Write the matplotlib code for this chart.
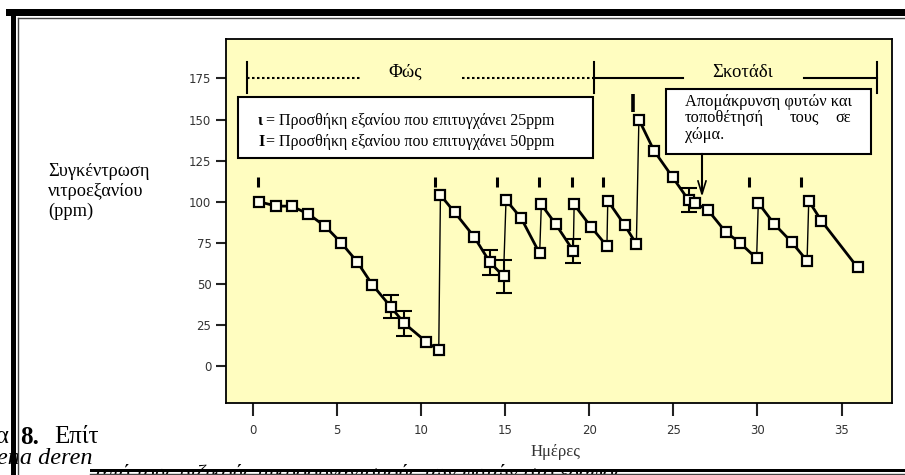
import numpy as np
import matplotlib.pyplot as plt
from matplotlib.patches import Rectangle

# data
days = [0.35, 1.4, 2.3, 3.3, 4.3, 5.25, 6.2, 7.1, 8.2, 9.0, 10.3, 11.05,
        11.15, 12.0, 13.15, 14.1, 14.9,
        15.05, 15.95, 17.05,
        17.15, 18.0, 19.05,
        19.1, 20.1, 21.05,
        21.1, 22.1, 22.8,
        22.95, 23.85, 24.95, 25.9, 26.3, 27.05, 28.1, 28.95, 29.95,
        30.05, 31.0, 32.05, 32.95,
        33.05, 33.8, 35.95]
conc = [100, 97.3, 97.3, 92.5, 85, 75, 63.4, 49.5, 36, 26, 14.8, 9.7,
        104, 93.5, 78.7, 63, 54.7,
        101, 90, 68.5,
        98.3, 86.4, 70.1,
        98.3, 84.7, 73,
        100.6, 85.8, 74.2,
        150, 131, 115, 101, 99, 95, 81.7, 75, 65.5,
        99.3, 86.4, 75.2, 64,
        100.5, 88.4, 60]
# index of first point of each run (hexane added -> jump)
run_starts = [0, 12, 17, 20, 23, 26, 29, 38, 42]
err_idx = [8, 9, 15, 16, 22, 32]
err_val = [7, 7.5, 7.5, 10, 7.5, 7.5]

add_25 = [0.3, 10.8, 14.5, 17.0, 19.0, 20.8, 29.5, 32.6]
add_50 = [22.6]

xticks = [0, 5, 10, 15, 20, 25, 30, 35]
yticks = [0, 25, 50, 75, 100, 125, 150, 175]

W, H = 905, 475
serif = 'Liberation Serif'


def fx(x):
    return x / W


def fy(y):
    return 1 - y / H


fig = plt.figure(figsize=(W / 100, H / 100), dpi=100)
fig.patch.set_facecolor('white')
ax = fig.add_axes([fx(226), fy(403), (892 - 226) / W, (403 - 39) / H])
ax.set_facecolor('#FFFDC0')

days = np.array(days)
conc = np.array(conc)
bounds = run_starts + [len(days)]

# thin vertical jumps
for s in run_starts[1:]:
    ax.plot(days[s - 1:s + 1], conc[s - 1:s + 1], color='black', lw=1.0, zorder=2)
# thick decay runs
for a, b in zip(bounds[:-1], bounds[1:]):
    ax.plot(days[a:b], conc[a:b], color='black', lw=2.0, zorder=3)

ax.errorbar(days[err_idx], conc[err_idx], yerr=err_val, fmt='none',
            ecolor='black', elinewidth=1.5, capsize=6, capthick=1.5, zorder=3)
ax.plot(days, conc, ls='none', marker='s', ms=7, mfc='#FFFFF2', mec='black',
        mew=1.6, zorder=4)

# addition markers
ax.plot(add_25, [112] * len(add_25), ls='none', marker='|', ms=7, mew=2.2,
        color='black', zorder=3)
ax.plot(add_50, [160] * len(add_50), ls='none', marker='|', ms=13, mew=2.6,
        color='black', zorder=3)

ax.set_xlim(-1.6, 38.0)
ax.set_ylim(-22.5, 199)
ax.set_xticks(xticks)
ax.set_yticks(yticks)
ax.tick_params(direction='out', length=7, width=1.5, color='#222222',
               labelsize=8.5, labelcolor='#333333')
ax.tick_params(axis='x', length=9, pad=6)
for sp in ax.spines.values():
    sp.set_linewidth(1.3)

# light / dark period bracket
kw = dict(color='black', clip_on=False, zorder=5)
for xv in [-0.36, 20.3, 37.1]:
    ax.plot([xv, xv], [166, 185], lw=1.5, **kw)
ax.plot([-0.36, 6.5], [175, 175], ls=(0, (1.2, 1.2)), lw=1.5, **kw)
ax.plot([12.45, 20.3], [175, 175], ls=(0, (1.2, 1.2)), lw=1.5, **kw)
ax.plot([20.3, 25.6], [175, 175], lw=1.5, **kw)
ax.plot([32.75, 37.1], [175, 175], lw=1.5, **kw)
ax.text(9.05, 178.5, 'Φώς', ha='center', va='center', fontsize=13.5, family=serif)
ax.text(29.1, 178.5, 'Σκοτάδι', ha='center', va='center', fontsize=13.5, family=serif)

# legend box
fig.add_artist(Rectangle((fx(238), fy(158)), (593 - 238) / W, (158 - 97) / H,
                         transform=fig.transFigure, fc='white', ec='black',
                         lw=1.5, zorder=6))
for yy, sym, txt in [(121, 'ι', '= Προσθήκη εξανίου που επιτυγχάνει 25ppm'),
                     (142, 'I', '= Προσθήκη εξανίου που επιτυγχάνει 50ppm')]:
    fig.text(fx(258), fy(yy), sym, ha='left', va='center', fontsize=11.5,
             fontweight='bold', family=serif, zorder=7)
    fig.text(fx(266), fy(yy), txt, ha='left', va='center', fontsize=11.5,
             family=serif, zorder=7)

# plant removal note
note_fs = 11.8
fig.add_artist(Rectangle((fx(666), fy(154)), (871 - 666) / W, (154 - 89) / H,
                         transform=fig.transFigure, fc='white', ec='black',
                         lw=1.5, zorder=6))
fig.text(fx(685), fy(102), 'Απομάκρυνση φυτών και', ha='left', va='center',
         fontsize=note_fs, family=serif, zorder=7)
fig.text(fx(685), fy(118), 'τοποθέτησή', ha='left', va='center',
         fontsize=note_fs, family=serif, zorder=7)
fig.text(fx(804), fy(118), 'τους', ha='center', va='center',
         fontsize=note_fs, family=serif, zorder=7)
fig.text(fx(851), fy(118), 'σε', ha='right', va='center',
         fontsize=note_fs, family=serif, zorder=7)
fig.text(fx(685), fy(135), 'χώμα.', ha='left', va='center',
         fontsize=note_fs, family=serif, zorder=7)
fig.add_artist(plt.Line2D([fx(702), fx(702)], [fy(154), fy(193)],
                          transform=fig.transFigure, color='black', lw=1.5, zorder=6))
fig.add_artist(plt.Line2D([fx(698), fx(702), fx(706)], [fy(181), fy(194), fy(181)],
                          transform=fig.transFigure, color='black', lw=1.2, zorder=6))

# axis labels
for yy, line in [(171, 'Συγκέντρωση'), (191, 'νιτροεξανίου'), (211, '(ppm)')]:
    fig.text(fx(48), fy(yy), line, ha='left', va='center', fontsize=13.2, family=serif)
fig.text(fx(555), fy(452), 'Ημέρες', ha='center', va='center', fontsize=12,
         family=serif, color='#333333')

# page fragments around the figure
fig.text(fx(9), fy(437), 'Εικόνα', ha='right', va='center', fontsize=18, family=serif)
fig.text(fx(20), fy(437), '8.', ha='left', va='center', fontsize=18,
         fontweight='bold', family=serif)
fig.text(fx(54), fy(437), 'Επίτ', ha='left', va='center', fontsize=18, family=serif)
fig.add_artist(Rectangle((fx(96), fy(455)), 100 / W, 35 / H, transform=fig.transFigure,
                         fc='white', ec='none', zorder=3))
fig.text(fx(-3), fy(459), 'ena deren', ha='left', va='center', fontsize=17.5,
         style='italic', family=serif, zorder=4)
fig.text(fx(96), fy(474), 'από τους ριζικούς μικροοργανισμούς των φυτών στο έδαφος',
         ha='left', va='center', fontsize=16, style='italic', family=serif, zorder=4)
fig.add_artist(Rectangle((fx(560), fy(469)), 345 / W, 8 / H, transform=fig.transFigure,
                         fc='white', ec='none', zorder=5))

# black page frame
frame = [(6, 9, 905, 16), (11, 9, 16, 475), (90, 469, 905, 471.5)]
for x0, y0, x1, y1 in frame:
    fig.add_artist(Rectangle((fx(x0), fy(y1)), (x1 - x0) / W, (y1 - y0) / H,
                             transform=fig.transFigure, fc='black', ec='none', zorder=8))
thin = [([fx(18), fx(905)], [fy(18), fy(18)]), ([fx(18), fx(18)], [fy(18), fy(475)]),
        ([fx(90), fx(905)], [fy(473.5), fy(473.5)])]
for xs, ys in thin:
    fig.add_artist(plt.Line2D(xs, ys, transform=fig.transFigure, color='#444444',
                              lw=1.0, zorder=8))

plt.savefig('out.png', dpi=100)
